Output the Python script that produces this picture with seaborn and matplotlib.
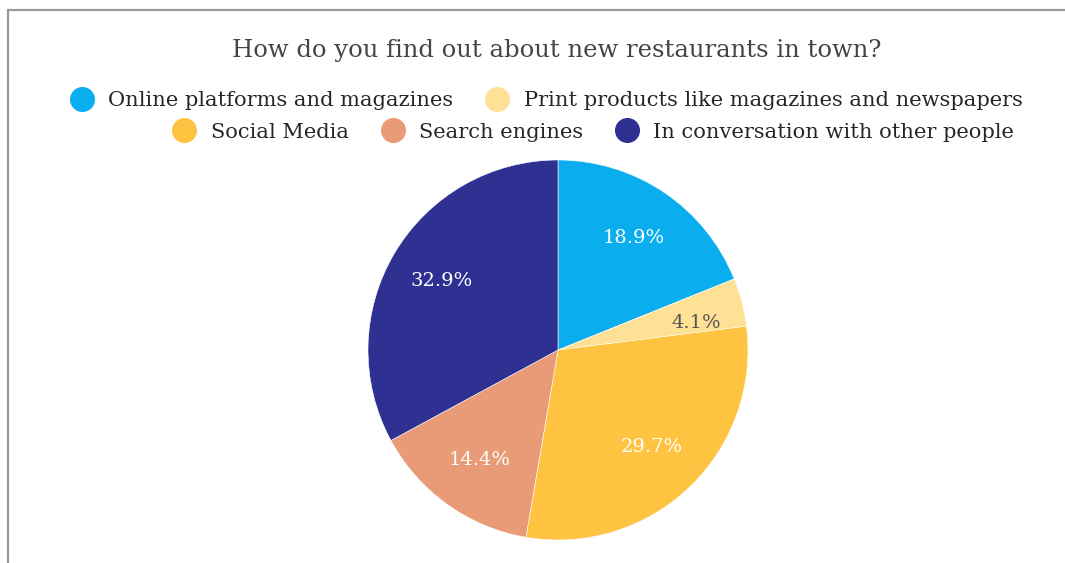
import matplotlib
matplotlib.use("Agg")
import matplotlib.pyplot as plt
from matplotlib.lines import Line2D
import numpy as np
import seaborn as sns

# Survey answers: how people discover new restaurants
categories = [
    "Online platforms and magazines",
    "Print products like magazines and newspapers",
    "Social Media",
    "Search engines",
    "In conversation with other people",
]
shares = [18.9, 4.1, 29.7, 14.4, 32.9]
colors = ["#0AAEEF", "#FFE195", "#FFC342", "#E89B76", "#2E3192"]
label_colors = ["white", "#555555", "white", "white", "white"]

sns.set_theme(style="white")
plt.rcParams["font.family"] = ["DejaVu Serif"]

W, H, DPI = 1065, 563, 100
fig = plt.figure(figsize=(W / DPI, H / DPI), dpi=DPI)
fig.patch.set_facecolor("white")

# outer frame (top and left edges visible)
frame_kw = dict(color="#9a9a9a", lw=1.6, transform=fig.transFigure)
fig.add_artist(Line2D([7.5 / W, 1.0], [1 - 9.5 / H, 1 - 9.5 / H], **frame_kw))
fig.add_artist(Line2D([7.5 / W, 7.5 / W], [0.0, 1 - 9.5 / H], **frame_kw))

# pie axes: centre (558, 350) px, radius 190 px
cx, cy, r = 558, 350, 190
ax = fig.add_axes([(cx - r) / W, (H - cy - r) / H, 2 * r / W, 2 * r / H])
wedges, _texts, autotexts = ax.pie(
    shares,
    colors=colors,
    startangle=90,
    counterclock=False,
    radius=1.0,
    autopct=lambda p: f"{p:.1f}%",
    pctdistance=0.71,
    wedgeprops=dict(linewidth=0.4, edgecolor="white"),
    textprops=dict(fontsize=14),
)
for t, c in zip(autotexts, label_colors):
    t.set_color(c)

# the thin slice's label sits a bit further out and just below its mid-line
w = wedges[1]
mid = np.deg2rad((w.theta1 + w.theta2) / 2)
autotexts[1].set_position((0.75 * np.cos(mid), 0.75 * np.sin(mid)))
autotexts[1].set_va("top")

ax.set_xlim(-1, 1)
ax.set_ylim(-1, 1)
ax.set_aspect("equal")
ax.axis("off")

# title
fig.text(557 / W, 1 - 50 / H, "How do you find out about new restaurants in town?",
         ha="center", va="center", fontsize=17.5, color="#444444")

# legend rows, each centred on its own
def legend_row(items, y_px, x_px):
    handles = [Line2D([], [], marker="o", linestyle="none", markersize=17,
                      markerfacecolor=colors[i], markeredgecolor=colors[i])
               for i in items]
    leg = fig.legend(handles, [categories[i] for i in items],
                     loc="center", bbox_to_anchor=(x_px / W, 1 - y_px / H),
                     ncol=len(items), frameon=False, fontsize=15.1,
                     handlelength=1.0, handletextpad=0.75, columnspacing=1.6,
                     borderaxespad=0, borderpad=0)
    for t in leg.get_texts():
        t.set_color("#262626")
    return leg

legend_row([0, 1], 101, 547)
legend_row([2, 3, 4], 132, 594)

fig.savefig("out.png", dpi=DPI, facecolor="white")
